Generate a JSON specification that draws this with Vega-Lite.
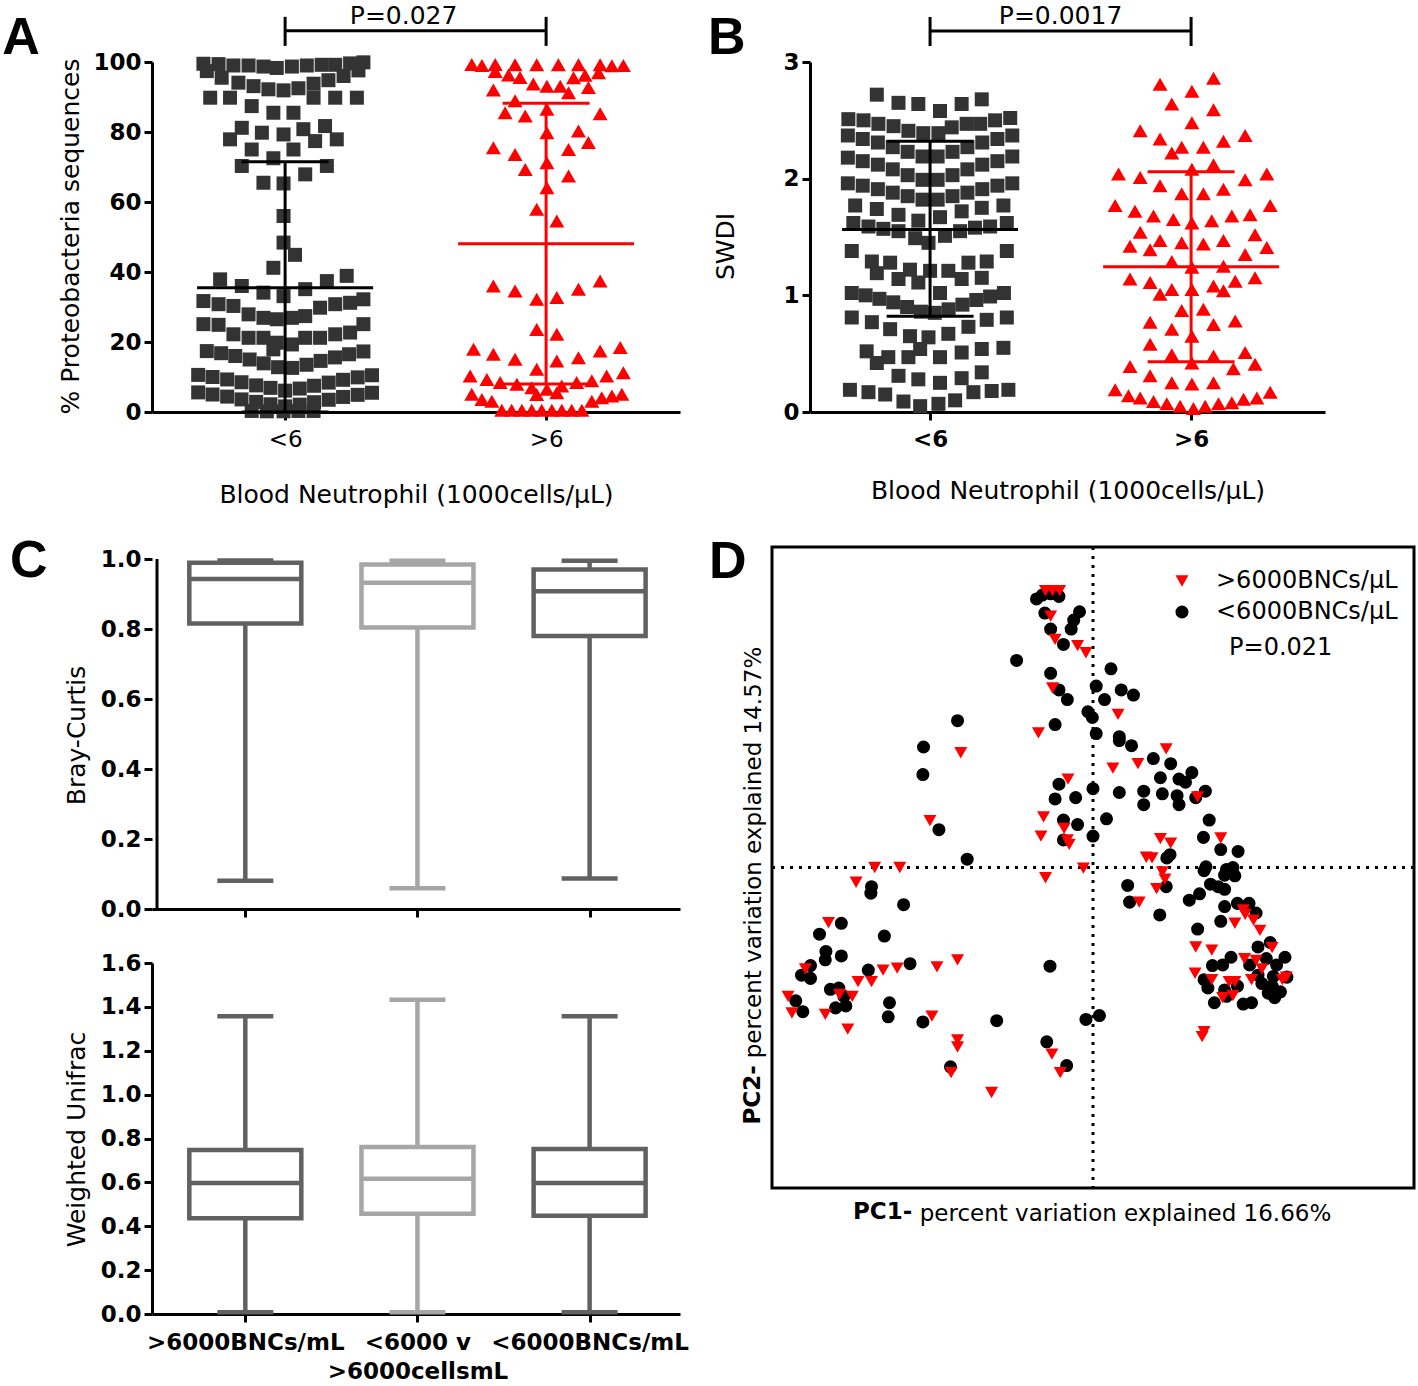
{
"$schema":"https://vega.github.io/schema/vega-lite/v6.json",
"padding":{"left":2,"top":3,"right":0,"bottom":0},
"background":"white",
"config":{"font":"DejaVu Sans","view":{"stroke":null},
"axis":{"grid":false,"domainColor":"#000","domainWidth":3,"tickColor":"#000","tickWidth":3,"tickSize":8,"labelColor":"#000","titleColor":"#000","labelFont":"DejaVu Sans","titleFont":"DejaVu Sans","labelFontSize":23,"labelFontWeight":"bold","titleFontSize":25,"titleFontWeight":"normal","labelPadding":3,"labelFlush":false,"labelOverlap":false,"labelLimit":600},
"axisX":{"labelPadding":8},
"legend":{"labelLimit":600}},
"resolve":{"scale":{"color":"independent","shape":"independent","stroke":"independent","x":"independent","y":"independent"},"legend":{"color":"independent","shape":"independent"}},
"datasets":{
"aB":[{"x":0.687,"v":99.5},{"x":0.745,"v":99.4},{"x":0.802,"v":99.0},{"x":0.860,"v":99.0},{"x":0.917,"v":98.7},{"x":0.968,"v":98.3},{"x":1.026,"v":98.7},{"x":1.083,"v":99.0},{"x":1.140,"v":99.2},{"x":1.192,"v":99.2},{"x":1.249,"v":99.6},{"x":1.300,"v":99.9},
{"x":0.700,"v":97.4},{"x":0.757,"v":95.5},{"x":0.821,"v":94.1},{"x":0.879,"v":93.1},{"x":0.936,"v":92.2},{"x":0.994,"v":91.9},{"x":1.051,"v":92.5},{"x":1.109,"v":93.8},{"x":1.166,"v":94.8},{"x":1.224,"v":96.0},{"x":1.281,"v":97.6},
{"x":0.713,"v":89.8},{"x":0.789,"v":89.8},{"x":1.109,"v":89.8},{"x":1.192,"v":89.8},{"x":1.275,"v":89.8},{"x":0.872,"v":87.4},{"x":0.955,"v":85.5},{"x":1.032,"v":85.5},
{"x":0.834,"v":81.2},{"x":0.911,"v":79.8},{"x":0.994,"v":79.3},{"x":1.070,"v":80.8},{"x":1.153,"v":81.7},{"x":0.789,"v":77.9},{"x":1.115,"v":77.4},{"x":1.198,"v":77.9},
{"x":0.872,"v":75.0},{"x":1.032,"v":75.0},{"x":0.955,"v":72.5},{"x":0.834,"v":70.3},{"x":1.160,"v":70.3},
{"x":0.917,"v":65.5},{"x":0.994,"v":65.3},{"x":1.077,"v":67.9},{"x":0.994,"v":56.0},{"x":0.994,"v":48.4},{"x":1.038,"v":44.9},{"x":0.955,"v":41.2},
{"x":0.751,"v":37.9},{"x":1.236,"v":38.9},{"x":0.834,"v":36.0},{"x":1.160,"v":37.4},{"x":0.917,"v":34.1},{"x":0.994,"v":33.1},{"x":1.077,"v":35.1},
{"x":0.687,"v":31.7},{"x":0.745,"v":30.8},{"x":0.802,"v":30.3},{"x":0.860,"v":27.9},{"x":0.917,"v":26.9},{"x":0.968,"v":26.5},{"x":1.026,"v":26.9},{"x":1.077,"v":27.4},{"x":1.134,"v":29.8},{"x":1.192,"v":30.8},{"x":1.249,"v":31.2},{"x":1.300,"v":32.2},
{"x":0.687,"v":25.1},{"x":0.745,"v":24.9},{"x":0.802,"v":22.2},{"x":0.860,"v":21.2},{"x":0.917,"v":21.2},{"x":0.968,"v":19.8},{"x":1.026,"v":19.3},{"x":1.077,"v":21.2},{"x":1.134,"v":21.2},{"x":1.192,"v":22.2},{"x":1.249,"v":22.7},{"x":1.300,"v":25.1},{"x":0.955,"v":17.9},
{"x":0.700,"v":17.4},{"x":0.755,"v":16.8},{"x":0.809,"v":16.0},{"x":0.864,"v":15.0},{"x":0.918,"v":13.9},{"x":0.973,"v":12.8},{"x":1.027,"v":12.6},{"x":1.082,"v":13.5},{"x":1.136,"v":14.6},{"x":1.191,"v":15.6},{"x":1.245,"v":16.5},{"x":1.300,"v":17.3},
{"x":0.667,"v":10.6},{"x":0.722,"v":10.0},{"x":0.778,"v":9.3},{"x":0.833,"v":8.5},{"x":0.889,"v":7.6},{"x":0.944,"v":6.9},{"x":1.000,"v":6.1},{"x":1.056,"v":6.7},{"x":1.111,"v":7.5},{"x":1.167,"v":8.4},{"x":1.222,"v":9.2},{"x":1.278,"v":9.9},{"x":1.333,"v":10.5},
{"x":0.667,"v":5.6},{"x":0.722,"v":5.0},{"x":0.778,"v":4.4},{"x":0.833,"v":3.6},{"x":0.889,"v":2.9},{"x":0.944,"v":2.2},{"x":1.000,"v":1.6},{"x":1.056,"v":2.1},{"x":1.111,"v":2.8},{"x":1.167,"v":3.5},{"x":1.222,"v":4.3},{"x":1.278,"v":4.9},{"x":1.333,"v":5.5},
{"x":0.872,"v":0.3},{"x":0.930,"v":0.2},{"x":0.994,"v":0.2},{"x":1.051,"v":0.3},{"x":1.109,"v":0.3}],
"aR":[{"x":1.715,"v":99.3},{"x":1.754,"v":99.0},{"x":1.805,"v":99.3},{"x":1.881,"v":99.2},{"x":1.964,"v":99.2},{"x":2.047,"v":99.2},{"x":2.124,"v":99.2},{"x":2.207,"v":99.2},{"x":2.252,"v":98.9},{"x":2.296,"v":99.0},
{"x":1.805,"v":97.3},{"x":1.856,"v":96.3},{"x":1.900,"v":95.6},{"x":2.105,"v":95.5},{"x":2.149,"v":96.2},{"x":2.201,"v":96.9},
{"x":1.798,"v":92.0},{"x":1.951,"v":93.7},{"x":2.003,"v":93.1},{"x":2.054,"v":93.1},{"x":2.086,"v":91.2},{"x":2.162,"v":92.7},
{"x":1.881,"v":88.9},{"x":1.843,"v":85.5},{"x":1.920,"v":84.6},{"x":2.003,"v":86.5},{"x":2.207,"v":85.2},
{"x":2.003,"v":79.8},{"x":2.124,"v":80.3},{"x":2.162,"v":77.0},{"x":1.798,"v":75.5},{"x":1.881,"v":73.6},{"x":2.086,"v":75.0},
{"x":1.920,"v":69.3},{"x":2.003,"v":71.2},{"x":2.086,"v":67.4},{"x":2.003,"v":64.1},{"x":1.964,"v":57.9},{"x":2.041,"v":54.6},
{"x":1.798,"v":36.0},{"x":1.881,"v":34.6},{"x":1.964,"v":32.2},{"x":2.041,"v":32.7},{"x":2.124,"v":35.1},{"x":2.207,"v":37.4},
{"x":1.964,"v":23.6},{"x":2.041,"v":22.2},
{"x":1.722,"v":17.9},{"x":1.798,"v":16.5},{"x":1.881,"v":15.1},{"x":1.964,"v":12.2},{"x":2.041,"v":14.6},{"x":2.124,"v":15.5},{"x":2.207,"v":17.4},{"x":2.284,"v":18.4},
{"x":1.709,"v":10.3},{"x":1.773,"v":9.3},{"x":1.824,"v":8.4},{"x":1.888,"v":7.9},{"x":1.945,"v":6.9},{"x":2.003,"v":6.5},{"x":2.060,"v":7.4},{"x":2.117,"v":8.4},{"x":2.175,"v":8.9},{"x":2.232,"v":10.3},{"x":2.296,"v":11.2},
{"x":1.715,"v":5.1},{"x":1.754,"v":3.6},{"x":1.792,"v":3.1},{"x":1.964,"v":5.0},{"x":2.041,"v":5.5},{"x":2.175,"v":3.1},{"x":2.213,"v":4.1},{"x":2.252,"v":4.6},{"x":2.290,"v":5.1},
{"x":1.830,"v":0.5},{"x":1.868,"v":0.5},{"x":1.907,"v":0.5},{"x":1.945,"v":0.5},{"x":1.983,"v":0.5},{"x":2.022,"v":0.5},{"x":2.060,"v":0.5},{"x":2.098,"v":0.5},{"x":2.137,"v":0.5}],
"aS":[{"g":"<6","p":1,"m":35.5,"lo":0,"hi":71.5},{"g":">6","p":2,"m":48.1,"lo":8.0,"hi":88.2}],
"bB":[{"x":0.796,"v":2.72},{"x":0.879,"v":2.65},{"x":0.955,"v":2.64},{"x":1.038,"v":2.58},{"x":1.121,"v":2.64},{"x":1.198,"v":2.68},
{"x":0.687,"v":2.51},{"x":0.745,"v":2.50},{"x":0.802,"v":2.47},{"x":0.860,"v":2.45},{"x":0.917,"v":2.41},{"x":0.974,"v":2.39},{"x":1.032,"v":2.39},{"x":1.083,"v":2.44},{"x":1.140,"v":2.47},{"x":1.192,"v":2.47},{"x":1.249,"v":2.50},{"x":1.307,"v":2.52},
{"x":0.685,"v":2.37},{"x":0.742,"v":2.34},{"x":0.800,"v":2.31},{"x":0.857,"v":2.27},{"x":0.914,"v":2.23},{"x":0.971,"v":2.19},{"x":1.029,"v":2.19},{"x":1.086,"v":2.23},{"x":1.143,"v":2.27},{"x":1.200,"v":2.31},{"x":1.258,"v":2.34},{"x":1.315,"v":2.37},
{"x":0.685,"v":2.18},{"x":0.742,"v":2.15},{"x":0.800,"v":2.12},{"x":0.857,"v":2.08},{"x":0.914,"v":2.03},{"x":0.971,"v":1.99},{"x":1.029,"v":1.99},{"x":1.086,"v":2.03},{"x":1.143,"v":2.08},{"x":1.200,"v":2.12},{"x":1.258,"v":2.15},{"x":1.315,"v":2.19},
{"x":0.685,"v":1.96},{"x":0.742,"v":1.94},{"x":0.800,"v":1.91},{"x":0.857,"v":1.88},{"x":0.914,"v":1.85},{"x":0.971,"v":1.82},{"x":1.029,"v":1.82},{"x":1.086,"v":1.85},{"x":1.143,"v":1.88},{"x":1.200,"v":1.91},{"x":1.258,"v":1.94},{"x":1.315,"v":1.96},
{"x":0.713,"v":1.77},{"x":0.796,"v":1.74},{"x":0.879,"v":1.69},{"x":0.955,"v":1.64},{"x":1.038,"v":1.67},{"x":1.121,"v":1.72},{"x":1.198,"v":1.75},{"x":1.281,"v":1.77},
{"x":0.706,"v":1.62},{"x":0.764,"v":1.59},{"x":0.821,"v":1.57},{"x":0.879,"v":1.55},{"x":0.943,"v":1.49},{"x":0.994,"v":1.45},{"x":1.057,"v":1.51},{"x":1.115,"v":1.55},{"x":1.172,"v":1.58},{"x":1.230,"v":1.59},{"x":1.294,"v":1.62},
{"x":0.700,"v":1.38},{"x":1.294,"v":1.38},{"x":0.777,"v":1.29},{"x":0.847,"v":1.28},{"x":1.147,"v":1.28},{"x":1.217,"v":1.29},
{"x":0.796,"v":1.19},{"x":0.923,"v":1.22},{"x":1.000,"v":1.21},{"x":1.070,"v":1.21},{"x":1.121,"v":1.14},{"x":1.198,"v":1.15},{"x":0.879,"v":1.14},{"x":0.955,"v":1.11},{"x":1.038,"v":1.02},
{"x":0.700,"v":1.02},{"x":0.753,"v":1.00},{"x":0.806,"v":0.97},{"x":0.859,"v":0.94},{"x":0.912,"v":0.90},{"x":0.965,"v":0.86},{"x":1.018,"v":0.85},{"x":1.071,"v":0.88},{"x":1.124,"v":0.92},{"x":1.177,"v":0.96},{"x":1.230,"v":0.99},{"x":1.283,"v":1.02},
{"x":0.700,"v":0.81},{"x":0.777,"v":0.77},{"x":0.847,"v":0.71},{"x":0.923,"v":0.65},{"x":0.994,"v":0.64},{"x":1.070,"v":0.67},{"x":1.147,"v":0.73},{"x":1.217,"v":0.79},{"x":1.294,"v":0.81},
{"x":0.757,"v":0.52},{"x":0.796,"v":0.42},{"x":0.840,"v":0.47},{"x":0.917,"v":0.47},{"x":0.962,"v":0.54},{"x":1.038,"v":0.47},{"x":1.121,"v":0.51},{"x":1.198,"v":0.54},{"x":1.281,"v":0.55},
{"x":0.879,"v":0.31},{"x":0.955,"v":0.28},{"x":1.038,"v":0.25},{"x":1.121,"v":0.29},{"x":1.198,"v":0.34},
{"x":0.693,"v":0.19},{"x":0.764,"v":0.17},{"x":0.828,"v":0.15},{"x":0.898,"v":0.09},{"x":0.962,"v":0.05},{"x":1.032,"v":0.07},{"x":1.096,"v":0.10},{"x":1.166,"v":0.17},{"x":1.236,"v":0.18},{"x":1.300,"v":0.19}],
"bR":[{"x":2.086,"v":2.86},{"x":1.881,"v":2.81},{"x":2.003,"v":2.75},{"x":1.926,"v":2.64},{"x":2.086,"v":2.59},{"x":2.003,"v":2.48},
{"x":1.805,"v":2.41},{"x":1.881,"v":2.34},{"x":1.964,"v":2.27},{"x":2.047,"v":2.27},{"x":2.124,"v":2.32},{"x":2.207,"v":2.37},{"x":1.926,"v":2.22},
{"x":1.722,"v":2.04},{"x":1.805,"v":2.01},{"x":2.003,"v":2.08},{"x":2.086,"v":2.12},{"x":2.207,"v":1.99},{"x":2.290,"v":2.04},
{"x":1.881,"v":1.94},{"x":1.964,"v":1.87},{"x":2.047,"v":1.87},{"x":2.124,"v":1.91},
{"x":1.709,"v":1.77},{"x":1.785,"v":1.72},{"x":1.856,"v":1.68},{"x":1.932,"v":1.65},{"x":2.003,"v":1.62},{"x":2.079,"v":1.64},{"x":2.156,"v":1.68},{"x":2.226,"v":1.69},{"x":2.303,"v":1.77},
{"x":1.805,"v":1.54},{"x":2.245,"v":1.52},
{"x":1.766,"v":1.42},{"x":1.843,"v":1.39},{"x":1.881,"v":1.47},{"x":1.964,"v":1.45},{"x":2.047,"v":1.44},{"x":2.124,"v":1.47},{"x":2.207,"v":1.35},{"x":2.290,"v":1.41},
{"x":1.926,"v":1.29},{"x":2.003,"v":1.24},{"x":2.124,"v":1.25},
{"x":1.766,"v":1.14},{"x":1.843,"v":1.11},{"x":1.881,"v":1.01},{"x":1.926,"v":1.05},{"x":2.003,"v":1.05},{"x":2.086,"v":1.08},{"x":2.124,"v":1.04},{"x":2.169,"v":1.12},{"x":2.245,"v":1.15},
{"x":1.964,"v":0.87},{"x":2.047,"v":0.88},
{"x":1.843,"v":0.77},{"x":1.926,"v":0.71},{"x":2.086,"v":0.75},{"x":2.169,"v":0.78},{"x":2.003,"v":0.65},{"x":1.843,"v":0.58},
{"x":1.926,"v":0.49},{"x":2.086,"v":0.48},{"x":2.207,"v":0.51},{"x":2.003,"v":0.42},{"x":1.766,"v":0.39},{"x":2.162,"v":0.37},{"x":2.245,"v":0.41},
{"x":1.843,"v":0.31},{"x":1.926,"v":0.25},{"x":2.003,"v":0.24},{"x":2.086,"v":0.25},
{"x":1.709,"v":0.19},{"x":1.760,"v":0.14},{"x":1.805,"v":0.12},{"x":1.856,"v":0.09},{"x":1.907,"v":0.07},{"x":1.958,"v":0.05},{"x":2.009,"v":0.03},{"x":2.054,"v":0.05},{"x":2.105,"v":0.07},{"x":2.156,"v":0.08},{"x":2.201,"v":0.11},{"x":2.252,"v":0.12},{"x":2.303,"v":0.17}],
"bS":[{"g":"<6","p":1,"m":1.565,"lo":0.82,"hi":2.32},{"g":">6","p":2,"m":1.245,"lo":0.43,"hi":2.06}],
"bc":[{"p":1,"c":"d","lo":0.081,"q1":0.816,"med":0.943,"q3":0.989,"hi":0.996},{"p":2,"c":"l","lo":0.059,"q1":0.804,"med":0.932,"q3":0.984,"hi":0.995},{"p":3,"c":"d","lo":0.087,"q1":0.780,"med":0.908,"q3":0.970,"hi":0.995}],
"wu":[{"p":1,"c":"d","lo":0.008,"q1":0.436,"med":0.597,"q3":0.748,"hi":1.357},{"p":2,"c":"l","lo":0.008,"q1":0.457,"med":0.617,"q3":0.761,"hi":1.432},{"p":3,"c":"d","lo":0.008,"q1":0.448,"med":0.597,"q3":0.752,"hi":1.357}],
"d":[
{"g":"<6000BNCs/μL","x":-0.088,"y":0.419},{"g":"<6000BNCs/μL","x":-0.079,"y":0.425},{"g":"<6000BNCs/μL","x":-0.066,"y":0.427},{"g":"<6000BNCs/μL","x":-0.053,"y":0.423},{"g":"<6000BNCs/μL","x":-0.075,"y":0.397},{"g":"<6000BNCs/μL","x":-0.066,"y":0.372},{"g":"<6000BNCs/μL","x":-0.030,"y":0.386},{"g":"<6000BNCs/μL","x":-0.021,"y":0.399},{"g":"<6000BNCs/μL","x":-0.034,"y":0.372},{"g":"<6000BNCs/μL","x":-0.046,"y":0.348},
{"g":"<6000BNCs/μL","x":-0.066,"y":0.303},{"g":"<6000BNCs/μL","x":-0.053,"y":0.277},{"g":"<6000BNCs/μL","x":-0.040,"y":0.262},{"g":"<6000BNCs/μL","x":-0.059,"y":0.223},{"g":"<6000BNCs/μL","x":-0.119,"y":0.323},{"g":"<6000BNCs/μL","x":0.028,"y":0.310},{"g":"<6000BNCs/μL","x":0.005,"y":0.283},{"g":"<6000BNCs/μL","x":0.044,"y":0.277},{"g":"<6000BNCs/μL","x":0.063,"y":0.269},{"g":"<6000BNCs/μL","x":0.018,"y":0.262},
{"g":"<6000BNCs/μL","x":-0.008,"y":0.243},{"g":"<6000BNCs/μL","x":-0.001,"y":0.234},{"g":"<6000BNCs/μL","x":0.005,"y":0.209},{"g":"<6000BNCs/μL","x":0.041,"y":0.204},{"g":"<6000BNCs/μL","x":0.041,"y":0.198},{"g":"<6000BNCs/μL","x":0.060,"y":0.190},{"g":"<6000BNCs/μL","x":0.094,"y":0.170},{"g":"<6000BNCs/μL","x":0.121,"y":0.162},{"g":"<6000BNCs/μL","x":0.105,"y":0.140},{"g":"<6000BNCs/μL","x":0.134,"y":0.138},
{"g":"<6000BNCs/μL","x":0.144,"y":0.133},{"g":"<6000BNCs/μL","x":0.154,"y":0.148},{"g":"<6000BNCs/μL","x":0.175,"y":0.119},{"g":"<6000BNCs/μL","x":0.160,"y":0.109},{"g":"<6000BNCs/μL","x":0.079,"y":0.119},{"g":"<6000BNCs/μL","x":0.108,"y":0.115},{"g":"<6000BNCs/μL","x":0.131,"y":0.112},{"g":"<6000BNCs/μL","x":0.134,"y":0.098},{"g":"<6000BNCs/μL","x":0.079,"y":0.098},{"g":"<6000BNCs/μL","x":0.041,"y":0.117},
{"g":"<6000BNCs/μL","x":0.000,"y":0.123},{"g":"<6000BNCs/μL","x":-0.027,"y":0.109},{"g":"<6000BNCs/μL","x":-0.059,"y":0.107},{"g":"<6000BNCs/μL","x":-0.053,"y":0.130},{"g":"<6000BNCs/μL","x":-0.046,"y":0.074},{"g":"<6000BNCs/μL","x":-0.024,"y":0.067},{"g":"<6000BNCs/μL","x":-0.046,"y":0.043},{"g":"<6000BNCs/μL","x":0.000,"y":0.049},{"g":"<6000BNCs/μL","x":0.021,"y":0.076},{"g":"<6000BNCs/μL","x":0.181,"y":0.074},
{"g":"<6000BNCs/μL","x":0.172,"y":0.047},{"g":"<6000BNCs/μL","x":0.199,"y":0.028},{"g":"<6000BNCs/μL","x":0.226,"y":0.025},{"g":"<6000BNCs/μL","x":0.115,"y":0.015},{"g":"<6000BNCs/μL","x":0.120,"y":0.020},{"g":"<6000BNCs/μL","x":0.176,"y":0.001},{"g":"<6000BNCs/μL","x":0.173,"y":-0.005},{"g":"<6000BNCs/μL","x":0.208,"y":-0.003},{"g":"<6000BNCs/μL","x":0.218,"y":0.000},{"g":"<6000BNCs/μL","x":0.205,"y":-0.012},
{"g":"<6000BNCs/μL","x":0.221,"y":-0.013},{"g":"<6000BNCs/μL","x":0.183,"y":-0.026},{"g":"<6000BNCs/μL","x":0.195,"y":-0.030},{"g":"<6000BNCs/μL","x":0.205,"y":-0.034},{"g":"<6000BNCs/μL","x":0.166,"y":-0.041},{"g":"<6000BNCs/μL","x":0.150,"y":-0.051},{"g":"<6000BNCs/μL","x":0.205,"y":-0.061},{"g":"<6000BNCs/μL","x":0.225,"y":-0.056},{"g":"<6000BNCs/μL","x":0.243,"y":-0.056},{"g":"<6000BNCs/μL","x":0.254,"y":-0.071},
{"g":"<6000BNCs/μL","x":0.199,"y":-0.084},{"g":"<6000BNCs/μL","x":0.163,"y":-0.096},{"g":"<6000BNCs/μL","x":0.054,"y":-0.028},{"g":"<6000BNCs/μL","x":0.057,"y":-0.054},{"g":"<6000BNCs/μL","x":0.114,"y":-0.030},{"g":"<6000BNCs/μL","x":0.104,"y":-0.074},{"g":"<6000BNCs/μL","x":0.257,"y":-0.124},{"g":"<6000BNCs/μL","x":0.276,"y":-0.117},{"g":"<6000BNCs/μL","x":0.299,"y":-0.140},{"g":"<6000BNCs/μL","x":0.270,"y":-0.142},
{"g":"<6000BNCs/μL","x":0.286,"y":-0.152},{"g":"<6000BNCs/μL","x":0.281,"y":-0.170},{"g":"<6000BNCs/μL","x":0.263,"y":-0.181},{"g":"<6000BNCs/μL","x":0.279,"y":-0.185},{"g":"<6000BNCs/μL","x":0.292,"y":-0.194},{"g":"<6000BNCs/μL","x":0.283,"y":-0.203},{"g":"<6000BNCs/μL","x":0.215,"y":-0.140},{"g":"<6000BNCs/μL","x":0.202,"y":-0.152},{"g":"<6000BNCs/μL","x":0.186,"y":-0.153},{"g":"<6000BNCs/μL","x":0.173,"y":-0.175},
{"g":"<6000BNCs/μL","x":0.179,"y":-0.188},{"g":"<6000BNCs/μL","x":0.189,"y":-0.211},{"g":"<6000BNCs/μL","x":0.234,"y":-0.213},{"g":"<6000BNCs/μL","x":0.247,"y":-0.211},{"g":"<6000BNCs/μL","x":0.244,"y":-0.152},{"g":"<6000BNCs/μL","x":0.257,"y":-0.168},{"g":"<6000BNCs/μL","x":0.302,"y":-0.171},{"g":"<6000BNCs/μL","x":0.273,"y":-0.196},{"g":"<6000BNCs/μL","x":0.205,"y":-0.191},{"g":"<6000BNCs/μL","x":0.208,"y":-0.201},
{"g":"<6000BNCs/μL","x":0.225,"y":-0.185},
{"g":"<6000BNCs/μL","x":-0.211,"y":0.229},{"g":"<6000BNCs/μL","x":-0.264,"y":0.188},{"g":"<6000BNCs/μL","x":-0.265,"y":0.145},{"g":"<6000BNCs/μL","x":-0.240,"y":0.059},{"g":"<6000BNCs/μL","x":-0.196,"y":0.013},{"g":"<6000BNCs/μL","x":-0.345,"y":-0.030},{"g":"<6000BNCs/μL","x":-0.346,"y":-0.040},{"g":"<6000BNCs/μL","x":-0.295,"y":-0.058},{"g":"<6000BNCs/μL","x":-0.392,"y":-0.087},{"g":"<6000BNCs/μL","x":-0.426,"y":-0.104},
{"g":"<6000BNCs/μL","x":-0.325,"y":-0.107},{"g":"<6000BNCs/μL","x":-0.416,"y":-0.131},{"g":"<6000BNCs/μL","x":-0.417,"y":-0.144},{"g":"<6000BNCs/μL","x":-0.392,"y":-0.138},{"g":"<6000BNCs/μL","x":-0.440,"y":-0.153},{"g":"<6000BNCs/μL","x":-0.454,"y":-0.168},{"g":"<6000BNCs/μL","x":-0.440,"y":-0.173},{"g":"<6000BNCs/μL","x":-0.350,"y":-0.160},{"g":"<6000BNCs/μL","x":-0.285,"y":-0.150},{"g":"<6000BNCs/μL","x":-0.409,"y":-0.190},
{"g":"<6000BNCs/μL","x":-0.396,"y":-0.188},{"g":"<6000BNCs/μL","x":-0.388,"y":-0.201},{"g":"<6000BNCs/μL","x":-0.401,"y":-0.219},{"g":"<6000BNCs/μL","x":-0.385,"y":-0.216},{"g":"<6000BNCs/μL","x":-0.463,"y":-0.208},{"g":"<6000BNCs/μL","x":-0.452,"y":-0.225},{"g":"<6000BNCs/μL","x":-0.317,"y":-0.211},{"g":"<6000BNCs/μL","x":-0.319,"y":-0.233},{"g":"<6000BNCs/μL","x":-0.265,"y":-0.241},{"g":"<6000BNCs/μL","x":-0.150,"y":-0.239},
{"g":"<6000BNCs/μL","x":-0.067,"y":-0.154},{"g":"<6000BNCs/μL","x":-0.011,"y":-0.237},{"g":"<6000BNCs/μL","x":0.010,"y":-0.231},{"g":"<6000BNCs/μL","x":-0.072,"y":-0.272},{"g":"<6000BNCs/μL","x":-0.041,"y":-0.309},{"g":"<6000BNCs/μL","x":-0.222,"y":-0.311},
{"g":">6000BNCs/μL","x":-0.074,"y":0.432},{"g":">6000BNCs/μL","x":-0.063,"y":0.432},{"g":">6000BNCs/μL","x":-0.052,"y":0.432},{"g":">6000BNCs/μL","x":-0.066,"y":0.392},{"g":">6000BNCs/μL","x":-0.059,"y":0.356},{"g":">6000BNCs/μL","x":-0.024,"y":0.346},{"g":">6000BNCs/μL","x":-0.011,"y":0.335},{"g":">6000BNCs/μL","x":-0.063,"y":0.280},{"g":">6000BNCs/μL","x":0.039,"y":0.239},{"g":">6000BNCs/μL","x":-0.085,"y":0.210},
{"g":">6000BNCs/μL","x":-0.206,"y":0.179},{"g":">6000BNCs/μL","x":0.114,"y":0.185},{"g":">6000BNCs/μL","x":0.070,"y":0.162},{"g":">6000BNCs/μL","x":0.031,"y":0.155},{"g":">6000BNCs/μL","x":-0.039,"y":0.138},{"g":">6000BNCs/μL","x":0.163,"y":0.110},{"g":">6000BNCs/μL","x":-0.077,"y":0.079},{"g":">6000BNCs/μL","x":-0.081,"y":0.049},{"g":">6000BNCs/μL","x":-0.045,"y":0.061},{"g":">6000BNCs/μL","x":-0.040,"y":0.043},
{"g":">6000BNCs/μL","x":-0.037,"y":0.036},{"g":">6000BNCs/μL","x":0.105,"y":0.045},{"g":">6000BNCs/μL","x":0.121,"y":0.038},{"g":">6000BNCs/μL","x":0.083,"y":0.016},{"g":">6000BNCs/μL","x":0.092,"y":0.015},{"g":">6000BNCs/μL","x":0.108,"y":-0.007},{"g":">6000BNCs/μL","x":0.112,"y":-0.018},{"g":">6000BNCs/μL","x":0.099,"y":-0.033},{"g":">6000BNCs/μL","x":-0.015,"y":-0.001},{"g":">6000BNCs/μL","x":-0.074,"y":-0.016},
{"g":">6000BNCs/μL","x":0.072,"y":-0.054},{"g":">6000BNCs/μL","x":0.199,"y":0.046},{"g":">6000BNCs/μL","x":-0.254,"y":0.073},{"g":">6000BNCs/μL","x":-0.340,"y":0.000},{"g":">6000BNCs/μL","x":-0.301,"y":0.000},{"g":">6000BNCs/μL","x":-0.369,"y":-0.023},{"g":">6000BNCs/μL","x":-0.412,"y":-0.086},{"g":">6000BNCs/μL","x":-0.448,"y":-0.158},{"g":">6000BNCs/μL","x":-0.475,"y":-0.201},{"g":">6000BNCs/μL","x":-0.469,"y":-0.227},
{"g":">6000BNCs/μL","x":-0.417,"y":-0.229},{"g":">6000BNCs/μL","x":-0.382,"y":-0.252},{"g":">6000BNCs/μL","x":-0.395,"y":-0.198},{"g":">6000BNCs/μL","x":-0.375,"y":-0.201},{"g":">6000BNCs/μL","x":-0.366,"y":-0.178},{"g":">6000BNCs/μL","x":-0.345,"y":-0.178},{"g":">6000BNCs/μL","x":-0.327,"y":-0.160},{"g":">6000BNCs/μL","x":-0.305,"y":-0.157},{"g":">6000BNCs/μL","x":-0.243,"y":-0.155},{"g":">6000BNCs/μL","x":-0.211,"y":-0.144},
{"g":">6000BNCs/μL","x":-0.251,"y":-0.232},{"g":">6000BNCs/μL","x":-0.211,"y":-0.269},{"g":">6000BNCs/μL","x":-0.211,"y":-0.280},{"g":">6000BNCs/μL","x":-0.221,"y":-0.320},{"g":">6000BNCs/μL","x":-0.158,"y":-0.351},{"g":">6000BNCs/μL","x":-0.064,"y":-0.291},{"g":">6000BNCs/μL","x":-0.051,"y":-0.320},{"g":">6000BNCs/μL","x":0.160,"y":-0.124},{"g":">6000BNCs/μL","x":0.185,"y":-0.129},{"g":">6000BNCs/μL","x":0.159,"y":-0.165},
{"g":">6000BNCs/μL","x":0.185,"y":-0.175},{"g":">6000BNCs/μL","x":0.212,"y":-0.178},{"g":">6000BNCs/μL","x":0.221,"y":-0.178},{"g":">6000BNCs/μL","x":0.202,"y":-0.203},{"g":">6000BNCs/μL","x":0.218,"y":-0.200},{"g":">6000BNCs/μL","x":0.234,"y":-0.066},{"g":">6000BNCs/μL","x":0.237,"y":-0.073},{"g":">6000BNCs/μL","x":0.250,"y":-0.082},{"g":">6000BNCs/μL","x":0.260,"y":-0.098},{"g":">6000BNCs/μL","x":0.221,"y":-0.087},
{"g":">6000BNCs/μL","x":0.279,"y":-0.125},{"g":">6000BNCs/μL","x":0.236,"y":-0.142},{"g":">6000BNCs/μL","x":0.254,"y":-0.145},{"g":">6000BNCs/μL","x":0.263,"y":-0.158},{"g":">6000BNCs/μL","x":0.247,"y":-0.175},{"g":">6000BNCs/μL","x":0.295,"y":-0.175},{"g":">6000BNCs/μL","x":0.301,"y":-0.171},{"g":">6000BNCs/μL","x":0.173,"y":-0.256},{"g":">6000BNCs/μL","x":0.170,"y":-0.264}]
},
"spacing":27,
"vconcat":[
{"hconcat":[
{"width":528,"height":350,"data":{"values":[{}]},
"layer":[
{"data":{"name":"aB"},"mark":{"type":"point","shape":"square","filled":true,"color":"#333333","size":196,"opacity":1,"clip":false},
"encoding":{"x":{"field":"x","type":"quantitative","scale":{"domain":[0.49,2.513],"nice":false,"zero":false},"axis":{"values":[1,2],"labelExpr":"datum.value == 1 ? '<6' : '>6'","labelFontWeight":"normal","title":"Blood Neutrophil (1000cells/μL)","titleY":82,"titleBaseline":"middle"}},
"y":{"field":"v","type":"quantitative","scale":{"domain":[0,100],"nice":false},"axis":{"values":[0,20,40,60,80,100],"title":"% Proteobacteria sequences","titleX":-82,"titleY":174,"titleBaseline":"middle"}}}},
{"data":{"name":"aR"},"mark":{"type":"point","shape":"triangle-up","filled":true,"color":"#ff0000","size":225,"opacity":1,"clip":false},
"encoding":{"x":{"field":"x","type":"quantitative"},"y":{"field":"v","type":"quantitative"}}},
{"data":{"name":"aS"},"mark":{"type":"rule","strokeWidth":3,"clip":false},"encoding":{"x":{"field":"p","type":"quantitative"},"y":{"field":"lo","type":"quantitative"},"y2":{"field":"hi"},"color":{"field":"g","type":"nominal","scale":{"domain":["<6",">6"],"range":["#000000","#ff0000"]},"legend":null}}},
{"data":{"name":"aS"},"mark":{"type":"tick","orient":"horizontal","size":176,"thickness":3,"opacity":1,"clip":false},"encoding":{"x":{"field":"p","type":"quantitative"},"y":{"field":"m","type":"quantitative"},"color":{"field":"g","type":"nominal","legend":null}}},
{"data":{"name":"aS"},"mark":{"type":"tick","orient":"horizontal","size":87,"thickness":3,"opacity":1,"clip":false},"encoding":{"x":{"field":"p","type":"quantitative"},"y":{"field":"hi","type":"quantitative"},"color":{"field":"g","type":"nominal","legend":null}}},
{"data":{"name":"aS"},"mark":{"type":"tick","orient":"horizontal","size":87,"thickness":3,"opacity":1,"clip":false},"encoding":{"x":{"field":"p","type":"quantitative"},"y":{"field":"lo","type":"quantitative"},"color":{"field":"g","type":"nominal","legend":null}}},
{"mark":{"type":"rule","strokeWidth":3,"color":"#000","clip":false},"encoding":{"x":{"datum":1,"type":"quantitative"},"x2":{"datum":2},"y":{"datum":108.9,"type":"quantitative"}}},
{"mark":{"type":"rule","strokeWidth":3,"color":"#000","clip":false},"encoding":{"x":{"datum":1,"type":"quantitative"},"y":{"datum":104.6,"type":"quantitative"},"y2":{"datum":112.9}}},
{"mark":{"type":"rule","strokeWidth":3,"color":"#000","clip":false},"encoding":{"x":{"datum":2,"type":"quantitative"},"y":{"datum":104.6,"type":"quantitative"},"y2":{"datum":112.9}}},
{"mark":{"type":"text","text":"P=0.027","fontSize":25,"align":"center","baseline":"alphabetic","color":"#000","clip":false},"encoding":{"x":{"datum":1.454,"type":"quantitative"},"y":{"datum":110.86,"type":"quantitative"}}},
{"mark":{"type":"text","text":"A","font":"Liberation Sans","fontWeight":"bold","fontSize":52,"align":"left","baseline":"alphabetic","color":"#000","clip":false},"encoding":{"x":{"datum":-0.084,"type":"quantitative"},"y":{"datum":102.3,"type":"quantitative"}}}
]},
{"width":515,"height":350,"data":{"values":[{}]},
"layer":[
{"data":{"name":"bB"},"mark":{"type":"point","shape":"square","filled":true,"color":"#333333","size":196,"opacity":1,"clip":false},
"encoding":{"x":{"field":"x","type":"quantitative","scale":{"domain":[0.54,2.513],"nice":false,"zero":false},"axis":{"values":[1,2],"labelExpr":"datum.value == 1 ? '<6' : '>6'","title":"Blood Neutrophil (1000cells/μL)","titleY":78,"titleBaseline":"middle"}},
"y":{"field":"v","type":"quantitative","scale":{"domain":[0,3],"nice":false},"axis":{"values":[0,1,2,3],"format":"d","title":"SWDI","titleX":-85,"titleY":184,"titleBaseline":"middle"}}}},
{"data":{"name":"bR"},"mark":{"type":"point","shape":"triangle-up","filled":true,"color":"#ff0000","size":225,"opacity":1,"clip":false},
"encoding":{"x":{"field":"x","type":"quantitative"},"y":{"field":"v","type":"quantitative"}}},
{"data":{"name":"bS"},"mark":{"type":"rule","strokeWidth":3,"clip":false},"encoding":{"x":{"field":"p","type":"quantitative"},"y":{"field":"lo","type":"quantitative"},"y2":{"field":"hi"},"color":{"field":"g","type":"nominal","scale":{"domain":["<6",">6"],"range":["#000000","#ff0000"]},"legend":null}}},
{"data":{"name":"bS"},"mark":{"type":"tick","orient":"horizontal","size":176,"thickness":3,"opacity":1,"clip":false},"encoding":{"x":{"field":"p","type":"quantitative"},"y":{"field":"m","type":"quantitative"},"color":{"field":"g","type":"nominal","legend":null}}},
{"data":{"name":"bS"},"mark":{"type":"tick","orient":"horizontal","size":87,"thickness":3,"opacity":1,"clip":false},"encoding":{"x":{"field":"p","type":"quantitative"},"y":{"field":"hi","type":"quantitative"},"color":{"field":"g","type":"nominal","legend":null}}},
{"data":{"name":"bS"},"mark":{"type":"tick","orient":"horizontal","size":87,"thickness":3,"opacity":1,"clip":false},"encoding":{"x":{"field":"p","type":"quantitative"},"y":{"field":"lo","type":"quantitative"},"color":{"field":"g","type":"nominal","legend":null}}},
{"mark":{"type":"rule","strokeWidth":3,"color":"#000","clip":false},"encoding":{"x":{"datum":1,"type":"quantitative"},"x2":{"datum":2},"y":{"datum":3.266,"type":"quantitative"}}},
{"mark":{"type":"rule","strokeWidth":3,"color":"#000","clip":false},"encoding":{"x":{"datum":1,"type":"quantitative"},"y":{"datum":3.137,"type":"quantitative"},"y2":{"datum":3.386}}},
{"mark":{"type":"rule","strokeWidth":3,"color":"#000","clip":false},"encoding":{"x":{"datum":2,"type":"quantitative"},"y":{"datum":3.137,"type":"quantitative"},"y2":{"datum":3.386}}},
{"mark":{"type":"text","text":"P=0.0017","fontSize":25,"align":"center","baseline":"alphabetic","color":"#000","clip":false},"encoding":{"x":{"datum":1.5,"type":"quantitative"},"y":{"datum":3.326,"type":"quantitative"}}},
{"mark":{"type":"text","text":"B","font":"Liberation Sans","fontWeight":"bold","fontSize":52,"align":"left","baseline":"alphabetic","color":"#000","clip":false},"encoding":{"x":{"datum":0.149,"type":"quantitative"},"y":{"datum":3.069,"type":"quantitative"}}}
]}
],"spacing":27,"resolve":{"scale":{"color":"independent","shape":"independent","stroke":"independent","x":"independent","y":"independent"}}},
{"concat":[
{"vconcat":[
{"width":528,"height":362,"data":{"name":"bc"},
"layer":[
{"mark":{"type":"rule","strokeWidth":4.5},"encoding":{"x":{"field":"p","type":"quantitative","scale":{"domain":[0.487,3.496],"nice":false,"zero":false},"axis":{"values":[1,2,3],"labels":false,"title":null}},"y":{"field":"lo","type":"quantitative","scale":{"domain":[0,1.0343],"nice":false},"axis":{"values":[0,0.2,0.4,0.6,0.8,1.0],"format":".1f","domain":false,"title":"Bray-Curtis","titleX":-76,"titleY":188,"titleBaseline":"middle"}},"y2":{"field":"hi"},"color":{"field":"c","type":"nominal","scale":{"domain":["d","l"],"range":["#616161","#a6a6a6"]},"legend":null}}},
{"data":{"values":[{}]},"mark":{"type":"rule","strokeWidth":3,"color":"#000"},"encoding":{"x":{"datum":0.487,"type":"quantitative"},"y":{"datum":0,"type":"quantitative"},"y2":{"datum":1.0}}},
{"mark":{"type":"bar","size":112,"fill":"white","strokeWidth":4.5},"encoding":{"x":{"field":"p","type":"quantitative"},"y":{"field":"q1","type":"quantitative"},"y2":{"field":"q3"},"stroke":{"field":"c","type":"nominal","scale":{"domain":["d","l"],"range":["#616161","#a6a6a6"]},"legend":null}}},
{"mark":{"type":"tick","orient":"horizontal","size":112,"thickness":4.5,"opacity":1},"encoding":{"x":{"field":"p","type":"quantitative"},"y":{"field":"med","type":"quantitative"},"color":{"field":"c","type":"nominal","legend":null}}},
{"mark":{"type":"tick","orient":"horizontal","size":56,"thickness":4.5,"opacity":1},"encoding":{"x":{"field":"p","type":"quantitative"},"y":{"field":"lo","type":"quantitative"},"color":{"field":"c","type":"nominal","legend":null}}},
{"mark":{"type":"tick","orient":"horizontal","size":56,"thickness":4.5,"opacity":1},"encoding":{"x":{"field":"p","type":"quantitative"},"y":{"field":"hi","type":"quantitative"},"color":{"field":"c","type":"nominal","legend":null}}},
{"data":{"values":[{}]},"mark":{"type":"text","text":"C","font":"Liberation Sans","fontWeight":"bold","fontSize":52,"align":"left","baseline":"alphabetic","color":"#000","clip":false},"encoding":{"x":{"datum":-0.3675,"type":"quantitative"},"y":{"datum":0.949,"type":"quantitative"}}}
]},
{"width":528,"height":351,"data":{"name":"wu"},
"layer":[
{"mark":{"type":"rule","strokeWidth":4.5},"encoding":{"x":{"field":"p","type":"quantitative","scale":{"domain":[0.487,3.496],"nice":false,"zero":false},"axis":{"values":[1,2,3],"labelExpr":"datum.value == 1 ? '>6000BNCs/mL' : datum.value == 2 ? ['<6000 v', '>6000cellsmL'] : '<6000BNCs/mL'","labelLineHeight":29,"labelPadding":9,"title":null}},"y":{"field":"lo","type":"quantitative","scale":{"domain":[0,1.6],"nice":false},"axis":{"values":[0,0.2,0.4,0.6,0.8,1.0,1.2,1.4,1.6],"format":".1f","title":"Weighted Unifrac","titleX":-76,"titleY":176,"titleBaseline":"middle"}},"y2":{"field":"hi"},"color":{"field":"c","type":"nominal","scale":{"domain":["d","l"],"range":["#616161","#a6a6a6"]},"legend":null}}},
{"mark":{"type":"bar","size":112,"fill":"white","strokeWidth":4.5},"encoding":{"x":{"field":"p","type":"quantitative"},"y":{"field":"q1","type":"quantitative"},"y2":{"field":"q3"},"stroke":{"field":"c","type":"nominal","scale":{"domain":["d","l"],"range":["#616161","#a6a6a6"]},"legend":null}}},
{"mark":{"type":"tick","orient":"horizontal","size":112,"thickness":4.5,"opacity":1},"encoding":{"x":{"field":"p","type":"quantitative"},"y":{"field":"med","type":"quantitative"},"color":{"field":"c","type":"nominal","legend":null}}},
{"mark":{"type":"tick","orient":"horizontal","size":56,"thickness":4.5,"opacity":1},"encoding":{"x":{"field":"p","type":"quantitative"},"y":{"field":"lo","type":"quantitative"},"color":{"field":"c","type":"nominal","legend":null}}},
{"mark":{"type":"tick","orient":"horizontal","size":56,"thickness":4.5,"opacity":1},"encoding":{"x":{"field":"p","type":"quantitative"},"y":{"field":"hi","type":"quantitative"},"color":{"field":"c","type":"nominal","legend":null}}}
]}
],"spacing":31,"resolve":{"scale":{"color":"independent","stroke":"independent","x":"independent","y":"independent"}}},
{"width":642,"height":641,"view":{"stroke":"#000","strokeWidth":3},"data":{"values":[{}]},
"layer":[
{"mark":{"type":"rule","strokeDash":[3,6],"strokeWidth":3,"color":"#000"},"encoding":{"x":{"datum":0,"type":"quantitative"}}},
{"mark":{"type":"rule","strokeDash":[3,6],"strokeWidth":3,"color":"#000"},"encoding":{"y":{"datum":0,"type":"quantitative"}}},
{"data":{"name":"d"},"mark":{"type":"point","filled":true,"size":170,"opacity":1,"clip":false},
"encoding":{"x":{"field":"x","type":"quantitative","scale":{"domain":[-0.5,0.5],"nice":false,"zero":false},"axis":{"title":"percent variation explained 16.66%","labels":false,"ticks":false,"domain":false,"titleFontSize":23,"titleX":353,"titleY":25,"titleBaseline":"middle"}},
"y":{"field":"y","type":"quantitative","scale":{"domain":[-0.5,0.5],"nice":false,"zero":false},"axis":{"title":"percent variation explained 14.57%","labels":false,"ticks":false,"domain":false,"titleFontSize":23,"titleX":-19,"titleY":305,"titleBaseline":"middle"}},
"shape":{"field":"g","type":"nominal","scale":{"domain":[">6000BNCs/μL","<6000BNCs/μL"],"range":["triangle-down","circle"]},"legend":{"title":null,"orient":"none","legendX":398,"legendY":22,"labelFontSize":24,"labelFont":"DejaVu Sans","labelColor":"#000","labelLimit":600,"symbolSize":170,"labelOffset":22,"rowPadding":7,"padding":0}},
"color":{"field":"g","type":"nominal","scale":{"domain":[">6000BNCs/μL","<6000BNCs/μL"],"range":["#ff0000","#000000"]},"legend":{"title":null,"orient":"none","legendX":398,"legendY":22,"labelFontSize":24,"labelFont":"DejaVu Sans","labelColor":"#000","labelLimit":600,"symbolSize":170,"labelOffset":22,"rowPadding":7,"padding":0}}}},
{"mark":{"type":"text","text":"P=0.021","fontSize":24,"align":"left","baseline":"middle","color":"#000"},"encoding":{"x":{"datum":0.212,"type":"quantitative"},"y":{"datum":0.343,"type":"quantitative"}}},
{"mark":{"type":"text","text":"D","font":"Liberation Sans","fontWeight":"bold","fontSize":52,"align":"left","baseline":"alphabetic","color":"#000","clip":false},"encoding":{"x":{"datum":-0.598,"type":"quantitative"},"y":{"datum":0.452,"type":"quantitative"}}},
{"mark":{"type":"text","text":"PC1-","fontWeight":"bold","fontSize":23,"align":"left","baseline":"middle","color":"#000","clip":false},"encoding":{"x":{"datum":-0.374,"type":"quantitative"},"y":{"datum":-0.538,"type":"quantitative"}}},
{"mark":{"type":"text","text":"PC2-","fontWeight":"bold","fontSize":23,"angle":270,"align":"left","baseline":"middle","color":"#000","clip":false},"encoding":{"x":{"datum":-0.530,"type":"quantitative"},"y":{"datum":-0.401,"type":"quantitative"}}}
]}
],"columns":2,"align":"none","spacing":18,"resolve":{"scale":{"color":"independent","shape":"independent","stroke":"independent","x":"independent","y":"independent"},"legend":{"color":"independent","shape":"independent"}}}
]
}
